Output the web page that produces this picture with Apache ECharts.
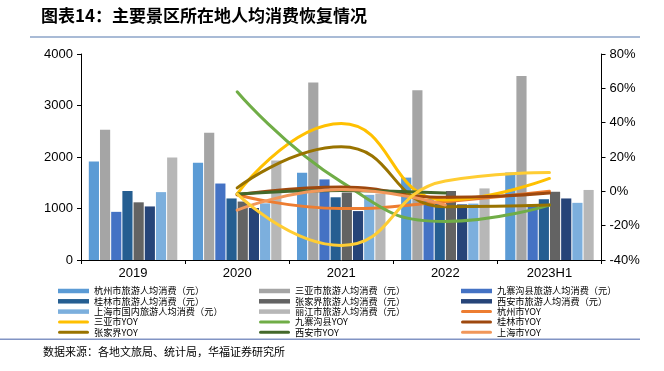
<!DOCTYPE html>
<html><head><meta charset="utf-8">
<script src="https://cdn.jsdelivr.net/npm/echarts@6/dist/echarts.min.js"></script>
<style>html,body{margin:0;padding:0;background:#fff}#c{width:664px;height:371px}</style>
</head><body><div id="c"></div>
<script>
// ---- data ----
const categories = ['2019', '2020', '2021', '2022', '2023H1'];

const hangzhouSpend    = [1915, 1890, 1695, 1600, 1700];
const sanyaSpend       = [2530, 2470, 3445, 3295, 3575];
const jiuzhaigouSpend  = [935, 1485, 1565, 1180, 1080];
const guilinSpend      = [1340, 1195, 1218, 1090, 1180];
const zhangjiajieSpend = [1120, 1135, 1310, 1340, 1325];
const xianSpend        = [1040, 1010, 950, 1080, 1195];
const shanghaiSpend    = [1318, 1100, 1265, 1095, 1110];
const lijiangSpend     = [1990, 1930, 1290, 1390, 1360];

const hangzhouYoy    = [null, -2, -10, -6, 0];
const sanyaYoy       = [null, -1.5, 39.5, -5, 7.5];
const jiuzhaigouYoy  = [null, 58, 5.5, -17.5, -8];
const guilinYoy      = [null, -2, 2.5, -3.5, -1];
const zhangjiajieYoy = [null, 2, 26, -9, -8];
const xianYoy        = [null, -1.5, 0.5, -1, null];
const shanghaiYoy    = [null, -11, 1, -8, null];
const lijiangYoy     = [null, -1.5, -31.5, 6, 11];

const barNames = ['杭州市旅游人均消费（元）', '三亚市旅游人均消费（元）', '九寨沟县旅游人均消费（元）', '桂林市旅游人均消费（元）', '张家界旅游人均消费（元）', '西安市旅游人均消费（元）', '上海市国内旅游人均消费（元）', '丽江市旅游人均消费（元）'];
const lineNames = ['杭州市YOY', '三亚市YOY', '九寨沟县YOY', '桂林市YOY', '张家界YOY', '西安市YOY', '上海市YOY', '丽江市YOY'];
const barValues = [hangzhouSpend, sanyaSpend, jiuzhaigouSpend, guilinSpend, zhangjiajieSpend, xianSpend, shanghaiSpend, lijiangSpend];
const lineValues = [hangzhouYoy, sanyaYoy, jiuzhaigouYoy, guilinYoy, zhangjiajieYoy, xianYoy, shanghaiYoy, lijiangYoy];

const leftMin = 0, leftMax = 4000, leftStep = 1000;
const rightMin = -40, rightMax = 80, rightStep = 20;

// ---- styles ----
const barColors = ['#5B9BD5', '#A5A5A5', '#4472C4', '#255E91', '#636363', '#264478', '#7CAFDD', '#B7B7B7'];
const lineColors = ['#ED7D31', '#FFC000', '#70AD47', '#9E480E', '#997300', '#43682B', '#F1975A', '#FFCD33'];
const CJK = '"Noto Sans CJK SC", "Liberation Sans", sans-serif';
const LAT = '"Liberation Sans", Arial, sans-serif';
const lineIcon = 'path://M1.5,0H29.5A1.5,1.5,0,0,1,29.5,3H1.5A1.5,1.5,0,0,1,1.5,0Z';

const series = [];
barNames.forEach((n, i) => series.push({
  name: n, type: 'bar', yAxisIndex: 0, data: barValues[i],
  barGap: '10%', barCategoryGap: '15%',
  itemStyle: { color: barColors[i] }
}));
lineNames.forEach((n, i) => series.push({
  name: n, type: 'line', yAxisIndex: 1, data: lineValues[i],
  smooth: 0.5, symbol: 'none', connectNulls: false,
  lineStyle: { color: lineColors[i], width: 3, cap: 'round' },
  itemStyle: { color: lineColors[i] }
}));

function legendCol(left, items) {
  return {
    orient: 'vertical', left: left, top: 286, padding: 0,
    itemWidth: 31, itemHeight: 4.5, itemGap: 0.3,
    textStyle: { fontFamily: CJK, fontSize: 9.2, color: '#000', lineHeight: 10 },
    data: items.map(n => lineNames.indexOf(n) >= 0 ? { name: n, icon: lineIcon } : { name: n, icon: 'rect' })
  };
}

const option = {
  animation: false,
  backgroundColor: '#fff',
  grid: { left: 81, right: 62.5, top: 54, bottom: 111 },
  xAxis: {
    type: 'category', data: categories,
    axisLine: { lineStyle: { color: '#000', width: 1 } },
    axisTick: { show: true, length: 4, lineStyle: { color: '#000' } },
    axisLabel: { fontFamily: LAT, fontSize: 13, color: '#000', margin: 7 }
  },
  yAxis: [
    { type: 'value', min: leftMin, max: leftMax, interval: leftStep,
      axisLine: { show: true, lineStyle: { color: '#000' } },
      axisTick: { show: true, length: 4, lineStyle: { color: '#000' } },
      splitLine: { show: false },
      axisLabel: { fontFamily: LAT, fontSize: 13, color: '#000', margin: 8, formatter: v => String(v) } },
    { type: 'value', min: rightMin, max: rightMax, interval: rightStep, position: 'right',
      axisLine: { show: true, lineStyle: { color: '#000' } },
      axisTick: { show: true, length: 4, lineStyle: { color: '#000' } },
      splitLine: { show: false },
      axisLabel: { fontFamily: LAT, fontSize: 13, color: '#000', margin: 8, formatter: v => v + '%' } }
  ],
  legend: [
    legendCol(58, [barNames[0], barNames[3], barNames[6], lineNames[1], lineNames[4]]),
    legendCol(259, [barNames[1], barNames[4], barNames[7], lineNames[2], lineNames[5]]),
    legendCol(461, [barNames[2], barNames[5], lineNames[0], lineNames[3], lineNames[6]])
  ],
  graphic: [
    { type: 'text', left: 41, top: 7, style: { text: '图表14：主要景区所在地人均消费恢复情况', font: 'bold 17px "Noto Sans CJK SC", sans-serif', fill: '#000' } },
    { type: 'rect', shape: { x: 30, y: 36, width: 610, height: 2 }, style: { fill: '#A9BBD6' } },
    { type: 'rect', shape: { x: 0, y: 338.5, width: 640, height: 1.5 }, style: { fill: '#8194C4' } },
    { type: 'text', left: 43, top: 346, style: { text: '数据来源：各地文旅局、统计局，华福证券研究所', font: '11px "Noto Sans CJK SC", sans-serif', fill: '#000' } }
  ],
  series: series
};

const chart = echarts.init(document.getElementById('c'), null, { renderer: 'canvas' });
chart.setOption(option);
</script>
</body></html>
